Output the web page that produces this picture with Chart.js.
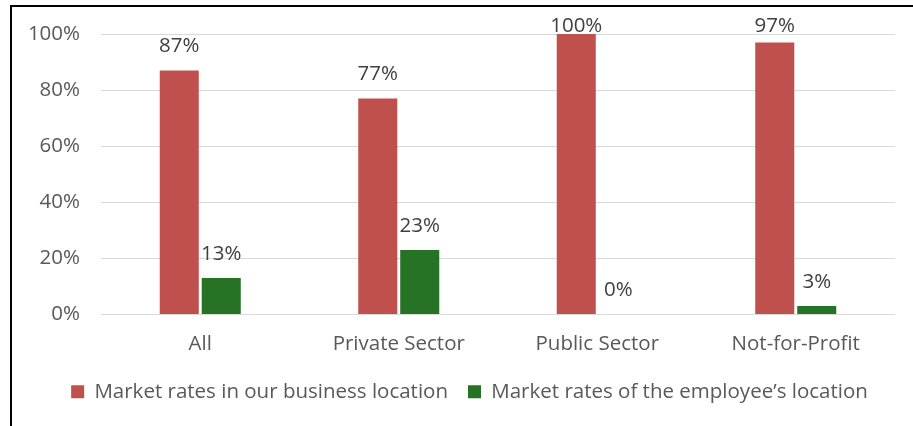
<!DOCTYPE html>
<html>
<head>
<meta charset="utf-8">
<script src="https://cdn.jsdelivr.net/npm/chart.js@4"></script>
<style>
  body { margin: 0; background: #fff; }
  #frame { position: absolute; left: 10px; top: 5px; right: 0; bottom: 0; border-top: 2px solid #000; border-left: 2px solid #000; }
  #wrap { position: absolute; left: 0; top: 0; width: 913px; height: 426px; }
</style>
</head>
<body>
<div id="frame"></div>
<div id="wrap"><canvas id="chart"></canvas></div>
<script>
const categories = ['All', 'Private Sector', 'Public Sector', 'Not-for-Profit'];
const seriesNames = ['Market rates in our business location', 'Market rates of the employee\u2019s location'];
const businessLocation = [87, 77, 100, 97];
const employeeLocation = [13, 23, 0, 3];
const yTicks = [0, 20, 40, 60, 80, 100];

const FONT = '"Open Sans", sans-serif';
const SIZE = 20.5;
const TEXT = '#595959';

// percentage labels above every bar
const valueLabels = {
  id: 'valueLabels',
  afterDatasetsDraw(chart) {
    const ctx = chart.ctx;
    ctx.save();
    ctx.font = SIZE + 'px ' + FONT;
    ctx.fillStyle = '#404040';
    ctx.textAlign = 'center';
    ctx.textBaseline = 'middle';
    chart.data.datasets.forEach((ds, i) => {
      chart.getDatasetMeta(i).data.forEach((bar, j) => {
        const y = Math.max(bar.y - 24, chart.chartArea.top - 8);
        ctx.fillText(ds.data[j] + '%', bar.x, y);
      });
    });
    ctx.restore();
  }
};

// legend sits centred under the plot rather than the whole canvas
const legendShift = {
  id: 'legendShift',
  afterLayout(chart) {
    chart.legend.left += 12;
    chart.legend.right += 12;
  }
};

new Chart(document.getElementById('chart'), {
  type: 'bar',
  data: {
    labels: categories,
    datasets: [{
      label: seriesNames[0],
      data: businessLocation,
      backgroundColor: '#C0504D',
      categoryPercentage: 0.423,
      barPercentage: 0.93
    }, {
      label: seriesNames[1],
      data: employeeLocation,
      backgroundColor: '#267326',
      categoryPercentage: 0.423,
      barPercentage: 0.93
    }]
  },
  options: {
    responsive: true,
    maintainAspectRatio: false,
    animation: false,
    layout: { padding: { left: 20, right: 18, top: 34, bottom: 14 } },
    scales: {
      x: {
        grid: { display: false, drawTicks: false },
        border: { display: false },
        ticks: { color: TEXT, font: { family: FONT, size: SIZE }, padding: 17 },
        afterFit: (scale) => { scale.height = 47; }
      },
      y: {
        min: 0,
        max: 100,
        afterBuildTicks: (scale) => { scale.ticks = yTicks.map(v => ({ value: v })); },
        grid: { color: '#D9D9D9', drawTicks: false },
        border: { display: false },
        ticks: { color: TEXT, font: { family: FONT, size: SIZE }, padding: 21, callback: v => v + '%' },
        afterFit: (scale) => { scale.width = 81; }
      }
    },
    plugins: {
      legend: {
        position: 'bottom',
        labels: { color: TEXT, font: { family: FONT, size: SIZE }, boxWidth: 13, boxHeight: 13, padding: 20 }
      },
      tooltip: { enabled: false }
    }
  },
  plugins: [valueLabels, legendShift]
});
</script>
</body>
</html>
